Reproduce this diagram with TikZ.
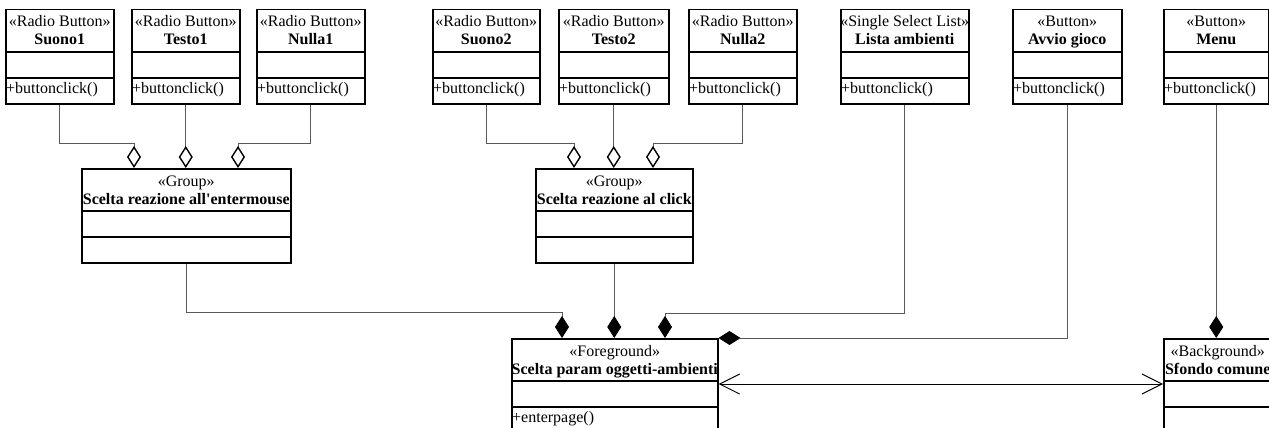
\documentclass[tikz,border=0pt]{standalone}
\usepackage{fontspec}
\setmainfont{Liberation Serif}
\usetikzlibrary{arrows.meta}

\tikzset{
  classbox/.style={draw=black, line width=1.5pt, rectangle, inner sep=0pt, minimum height=94pt},
  classline/.style={draw=black, line width=1.5pt},
  lbl/.style={inner sep=0pt, font=\fontsize{16pt}{18pt}\selectfont},
  conn/.style={draw=black!65, line width=1pt},
  agg/.style={conn, -{Diamond[open, length=22pt, width=14pt, line width=1.4pt, color=black]}},
  comp/.style={conn, -{Diamond[length=22pt, width=14pt, color=black]}},
  nav/.style={draw=black, line width=1pt,
    {Straight Barb[length=20pt, width=20pt]}-{Straight Barb[length=20pt, width=20pt]}}
}

% class box: id, left x, top y, width, stereotype, name, operation
\newcommand\umlclass[7]{%
  \node[classbox, minimum width=#4pt, anchor=north west] (#1) at (#2,#3) {};
  \draw[classline] ([yshift=-43pt]#1.north west) -- ([yshift=-43pt]#1.north east);
  \draw[classline] ([yshift=-69pt]#1.north west) -- ([yshift=-69pt]#1.north east);
  \node[lbl, anchor=base] (#1-st) at ([yshift=-18pt]#1.north) {#5};
  \node[lbl, anchor=base, font=\fontsize{16pt}{18pt}\selectfont\bfseries] (#1-nm) at ([yshift=-36pt]#1.north) {#6};
  \node[lbl, anchor=base west] (#1-op) at ([yshift=-84pt, xshift=1pt]#1.north west) {#7};
}

\begin{document}
\begin{tikzpicture}[x=1pt, y=-1pt]
\useasboundingbox (0,0) rectangle (1269,428);
\clip (0,0) rectangle (1269,428);

% widgets
\umlclass{s1}{5}{9}{108}{«Radio Button»}{Suono1}{+buttonclick()}
\umlclass{t1}{131}{9}{108}{«Radio Button»}{Testo1}{+buttonclick()}
\umlclass{n1}{256}{9}{108}{«Radio Button»}{Nulla1}{+buttonclick()}
\umlclass{s2}{432}{9}{107}{«Radio Button»}{Suono2}{+buttonclick()}
\umlclass{t2}{558}{9}{110}{«Radio Button»}{Testo2}{+buttonclick()}
\umlclass{n2}{688}{9}{108}{«Radio Button»}{Nulla2}{+buttonclick()}
\umlclass{la}{840}{9}{128}{«Single Select List»}{Lista ambienti}{+buttonclick()}
\umlclass{av}{1012}{9}{109}{«Button»}{Avvio gioco}{+buttonclick()}
\umlclass{mn}{1163}{9}{105}{«Button»}{Menu}{+buttonclick()}

% groups
\umlclass{g1}{81}{168}{209}{«Group»}{Scelta reazione all\textquotesingle entermouse}{}
\umlclass{g2}{535}{168}{157}{«Group»}{Scelta reazione al click}{}

% pages
\umlclass{fg}{511}{338}{206}{«Foreground»}{Scelta param oggetti-ambienti}{+enterpage()}
\umlclass{bg}{1163}{338}{108}{«Background»}{Sfondo comune}{}

% aggregations into the groups
\draw[agg] (s1.south) -- ++(0,39) -| ([xshift=53pt]g1.north west);
\draw[agg] (t1.south) -- (t1.south |- g1.north);
\draw[agg] (n1.south) -- ++(0,39) -| ([xshift=157pt]g1.north west);
\draw[agg] (s2.south) -- ++(0,39) -| ([xshift=39pt]g2.north west);
\draw[agg] (t2.south) -- (t2.south |- g2.north);
\draw[agg] (n2.south) -- ++(0,39) -| ([xshift=118pt]g2.north west);

% compositions into the pages
\draw[comp] (g1.south) -- ++(0,49) -| ([xshift=51pt]fg.north west);
\draw[comp] (g2.south) -- (g2.south |- fg.north);
\draw[comp] (la.south) -- ++(0,209) -| ([xshift=154pt]fg.north west);
\draw[comp] (av.south) |- (fg.north east);
\draw[comp] (mn.south) -- (mn.south |- bg.north);

% navigation between pages
\draw[nav] ([yshift=-46pt]fg.north east) -- ([yshift=-46pt]bg.north west);
\end{tikzpicture}
\end{document}
